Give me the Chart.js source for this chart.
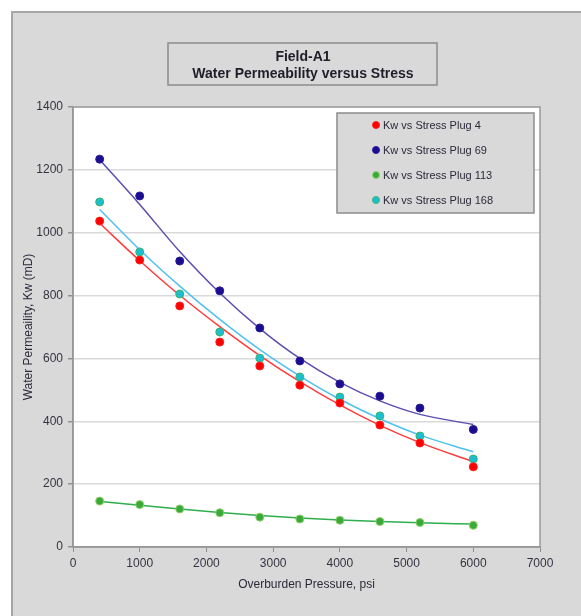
<!DOCTYPE html>
<html>
<head>
<meta charset="utf-8">
<script src="https://cdn.jsdelivr.net/npm/chart.js"></script>
<style>
  body { margin: 0; background: #fff; overflow: hidden; }
  canvas { display: block; }
</style>
</head>
<body>
<canvas id="myChart" width="581" height="616"></canvas>
<script>
// overburden pressure, psi
const pressure = [400, 1000, 1600, 2200, 2800, 3400, 4000, 4600, 5200, 6000];

// measured Kw (mD)
const plug4   = [1037, 913, 767, 652, 576, 515, 458, 388, 331, 255];
const plug69  = [1234, 1117, 910, 815, 697, 592, 519, 480, 442, 374];
const plug113 = [146, 135, 121, 109, 95, 89, 85, 81, 78, 69];
const plug168 = [1098, 939, 805, 684, 601, 541, 477, 417, 353, 280];

// trend lines
const trend4   = [1030, 911, 801, 701, 609, 526, 452, 387, 332, 271];
const trend69  = [1232, 1090, 940, 808, 695, 600, 524, 465, 422, 390];
const trend113 = [145, 133, 121, 110, 100, 92, 86, 81, 77, 73];
const trend168 = [1074, 946, 830, 724, 628, 544, 470, 408, 356, 303];

const seriesNames = ['Kw vs Stress Plug 4', 'Kw vs Stress Plug 69', 'Kw vs Stress Plug 113', 'Kw vs Stress Plug 168'];
const titleLines = ['Field-A1', 'Water Permeability versus Stress'];

const toXY = vals => pressure.map((p, i) => ({ x: p, y: vals[i] }));

function points(label, vals, fill, border) {
  return {
    label: label, data: toXY(vals), showLine: false, order: 1,
    pointRadius: 4, pointHoverRadius: 4, pointBackgroundColor: fill,
    pointBorderColor: border, pointBorderWidth: 1, backgroundColor: fill, borderColor: border
  };
}
function trend(vals, color) {
  return {
    label: 'trend', data: toXY(vals), showLine: true, order: 2, pointRadius: 0,
    borderColor: color, borderWidth: 1.5, cubicInterpolationMode: 'monotone', fill: false
  };
}

const panel = {
  id: 'panel',
  beforeDraw(chart) {
    const ctx = chart.ctx, a = chart.chartArea;
    ctx.save();
    ctx.fillStyle = '#ffffff';
    ctx.fillRect(0, 0, chart.width, chart.height);
    ctx.fillStyle = '#d9d9d9';
    ctx.fillRect(12, 12, chart.width, chart.height);
    ctx.strokeStyle = '#a6a6a6';
    ctx.lineWidth = 2;
    ctx.beginPath();
    ctx.moveTo(12, chart.height);
    ctx.lineTo(12, 12);
    ctx.lineTo(chart.width, 12);
    ctx.stroke();
    ctx.fillStyle = '#ffffff';
    ctx.fillRect(a.left, a.top, a.right - a.left, a.bottom - a.top);
    ctx.restore();
  },
  afterDraw(chart) {
    const ctx = chart.ctx, a = chart.chartArea;
    ctx.save();
    // plot area border
    ctx.strokeStyle = '#989898';
    ctx.lineWidth = 1.5;
    ctx.strokeRect(a.left, a.top, a.right - a.left, a.bottom - a.top);

    // title box
    ctx.fillStyle = '#d9d9d9';
    ctx.fillRect(168, 43, 269, 42);
    ctx.strokeStyle = '#8c8c8c';
    ctx.lineWidth = 1.5;
    ctx.strokeRect(168, 43, 269, 42);
    ctx.fillStyle = '#1e1e28';
    ctx.font = 'bold 14px "Liberation Sans", Arial, sans-serif';
    ctx.textAlign = 'center';
    ctx.textBaseline = 'middle';
    ctx.fillText(titleLines[0], 303, 57);
    ctx.fillText(titleLines[1], 303, 74);

    // legend box
    ctx.fillStyle = '#d9d9d9';
    ctx.fillRect(337, 113, 197, 100);
    ctx.strokeStyle = '#8c8c8c';
    ctx.strokeRect(337, 113, 197, 100);
    ctx.font = '11px "Liberation Sans", Arial, sans-serif';
    ctx.textAlign = 'left';
    const items = chart.data.datasets.filter(d => !d.showLine);
    items.forEach((d, i) => {
      const y = 125 + i * 25;
      ctx.beginPath();
      ctx.arc(376, y, 3.5, 0, Math.PI * 2);
      ctx.fillStyle = d.pointBackgroundColor;
      ctx.fill();
      ctx.lineWidth = 1;
      ctx.strokeStyle = d.pointBorderColor;
      ctx.stroke();
      ctx.fillStyle = '#2a2a3a';
      ctx.fillText(d.label, 383, y + 1);
    });
    ctx.restore();
  }
};

const tickFont = { family: '"Liberation Sans", Arial, sans-serif', size: 12 };

new Chart(document.getElementById('myChart'), {
  type: 'scatter',
  data: {
    datasets: [
      points(seriesNames[0], plug4, '#ff0000', '#ff2020'),
      points(seriesNames[1], plug69, '#1c0d8f', '#2a1c9c'),
      points(seriesNames[2], plug113, '#39aa3a', '#8fd16a'),
      points(seriesNames[3], plug168, '#1bbfd0', '#3cb371'),
      trend(trend4, '#ff3b3b'),
      trend(trend69, '#5a4fb0'),
      trend(trend113, '#2fae4e'),
      trend(trend168, '#4fc1f0')
    ]
  },
  options: {
    responsive: false,
    animation: false,
    layout: { padding: { left: 0, top: 107, right: 41, bottom: 0 } },
    plugins: { legend: { display: false }, tooltip: { enabled: false }, title: { display: false } },
    scales: {
      x: {
        type: 'linear', min: 0, max: 7000,
        ticks: { stepSize: 1000, color: '#333340', font: tickFont, padding: 4, maxRotation: 0,
                 callback: v => String(v) },
        grid: { drawOnChartArea: false, color: '#909090', tickLength: 5 },
        border: { color: '#909090', width: 1.5 },
        title: { display: true, text: 'Overburden Pressure, psi', color: '#2a2a3a',
                 font: { family: '"Liberation Sans", Arial, sans-serif', size: 12 }, padding: { top: 0, bottom: 24 } },
        afterFit: s => { s.height = 69; }
      },
      y: {
        type: 'linear', min: 0, max: 1400,
        ticks: { stepSize: 200, color: '#333340', font: tickFont, padding: 5,
                 callback: v => String(v) },
        grid: { color: '#d9d9d9', lineWidth: 1.5, tickColor: '#909090', tickLength: 5 },
        border: { color: '#909090', width: 1.5 },
        title: { display: true, text: 'Water Permeaility, Kw (mD)', color: '#2a2a3a',
                 font: { family: '"Liberation Sans", Arial, sans-serif', size: 12 }, padding: { top: 21, bottom: 0 } },
        afterFit: s => { s.width = 73; }
      }
    }
  },
  plugins: [panel]
});
</script>
</body>
</html>
